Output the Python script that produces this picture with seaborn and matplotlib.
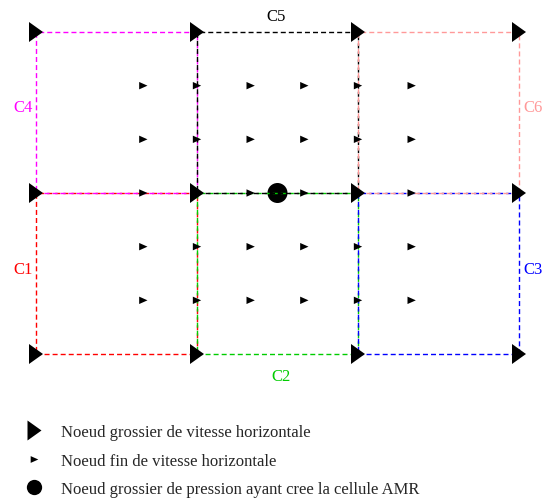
import numpy as np
import pandas as pd
import matplotlib
matplotlib.use("Agg")
import matplotlib.pyplot as plt
from matplotlib.lines import Line2D
import seaborn as sns

sns.set_theme(style="white")
plt.rcParams['font.family'] = ['Liberation Serif', 'DejaVu Serif']

# coarse grid node positions (x-velocity nodes, coarse cell units)
coarse_x = [0, 1, 2, 3]
coarse_y = [0, 1, 2]
# fine grid node positions (refined around the AMR cell)
fine_x = [2/3, 1, 4/3, 5/3, 2, 7/3]
fine_y = [1/3, 2/3, 1, 4/3, 5/3]
# coarse pressure node which created the AMR cell
pressure_x = [1.5]
pressure_y = [1.0]

# cells: name, lower-left corner, colour
cell_names = ['C1', 'C2', 'C3', 'C4', 'C5', 'C6']
cell_x0 = [0, 1, 2, 0, 1, 2]
cell_y0 = [0, 0, 0, 1, 1, 1]
cell_colors = ['#ff0000', '#00cc00', '#0000ff', '#ff00ff', '#000000', '#ff9999']
# label anchor for each cell
label_x = [-0.02, 1.52, 3.025, -0.02, 1.494, 3.025]
label_y = [0.528, -0.137, 0.528, 1.534, 2.099, 1.534]
label_ha = ['right', 'center', 'left', 'right', 'center', 'left']

legend_labels = ['Noeud grossier de vitesse horizontale',
                 'Noeud fin de vitesse horizontale',
                 'Noeud grossier de pression ayant cree la cellule AMR']

big_tri = [(-0.7, -1), (0.7, 0), (-0.7, 1), (-0.7, -1)]
small_tri = [(-0.9, -0.8), (0.9, 0), (-0.9, 0.8), (-0.9, -0.8)]

coarse = pd.DataFrame([(x, y) for x in coarse_x for y in coarse_y], columns=['x', 'y'])
fine = pd.DataFrame([(x, y) for x in fine_x for y in fine_y], columns=['x', 'y'])
press = pd.DataFrame({'x': pressure_x, 'y': pressure_y})

fig = plt.figure(figsize=(5.44, 5.02), dpi=100)
ax = fig.add_axes([0, 0, 1, 1])

# pressure node (drawn below the lines)
sns.scatterplot(data=press, x='x', y='y', marker='o', s=14.4**2, color='black',
                edgecolor='none', ax=ax, zorder=1)

for name, x0, y0, c in zip(cell_names, cell_x0, cell_y0, cell_colors):
    rect = pd.DataFrame({'x': [x0, x0 + 1, x0 + 1, x0, x0],
                         'y': [y0, y0, y0 + 1, y0 + 1, y0]})
    sns.lineplot(data=rect, x='x', y='y', sort=False, estimator=None, color=c,
                 lw=1.0, dashes=(3.6, 2.2), ax=ax, zorder=2)

sns.scatterplot(data=fine, x='x', y='y', marker=small_tri, s=6**2, color='black',
                edgecolor='none', ax=ax, zorder=3)
sns.scatterplot(data=coarse, x='x', y='y', marker=big_tri, s=14.4**2, color='black',
                edgecolor='none', ax=ax, zorder=4)

for name, lx, ly, ha, c in zip(cell_names, label_x, label_y, label_ha, cell_colors):
    ax.text(lx, ly, name, color=c, ha=ha, va='center', fontsize=12)

handles = [
    Line2D([], [], ls='none', marker=big_tri, markersize=14.4, color='black', markeredgewidth=0),
    Line2D([], [], ls='none', marker=small_tri, markersize=5.5, color='black', markeredgewidth=0),
    Line2D([], [], ls='none', marker='o', markersize=11, color='black', markeredgewidth=0),
]
ax.legend(handles, legend_labels, loc='upper left', bbox_to_anchor=(26 / 544, 1 - 425 / 502),
          bbox_transform=fig.transFigure, frameon=False, fontsize=12, borderpad=0,
          handlelength=0.95, handletextpad=1.15, labelspacing=0.75, borderaxespad=0)

ax.set_xlim(-36 / 161, (544 - 36) / 161)
ax.set_ylim(-(502 - 355) / 161, 355 / 161)
ax.set_axis_off()

fig.savefig('out.png', dpi=100)
